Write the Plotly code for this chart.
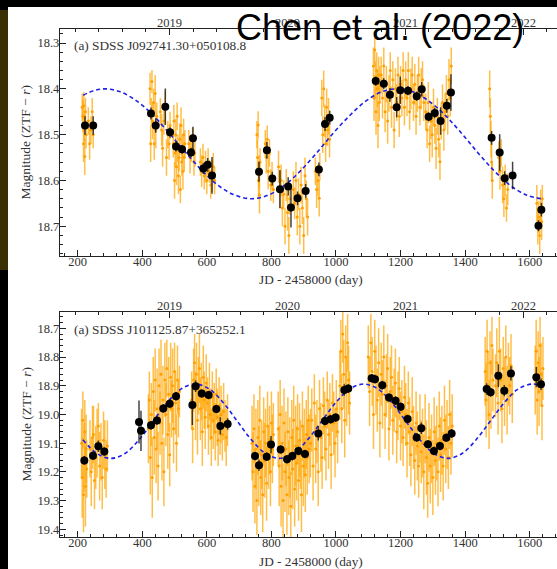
import plotly.graph_objects as go

# ---------------- data: top panel (SDSS J092741.30+050108.8) ----------------
TOP_OBS_X = [214, 216, 218, 219, 221, 222, 224, 226,
             233, 237, 241, 245, 248,
             424, 426, 428, 430, 432, 435, 437, 440, 442, 445,
             456, 460, 463, 467, 471, 475, 479, 483, 486,
             496, 498, 500, 502, 504, 506, 508, 510, 512, 514, 516, 518, 520, 522, 524, 526, 528, 530, 532,
             544, 548, 552, 556, 560, 563,
             580, 584, 588, 592, 596, 600, 604, 608, 612, 616, 620, 624,
             755, 757, 759, 760, 762, 763, 765,
             781, 784, 787, 790, 794, 798, 802, 806,
             822, 826, 830, 834, 838, 842, 846, 850, 854, 857,
             868, 872, 876, 880, 884, 888, 892, 896, 900, 904, 908, 912,
             936, 940, 944, 948, 950,
             956, 959, 962, 965, 968, 971, 974, 977, 980,
             1116, 1118, 1120, 1122, 1124, 1126, 1128, 1130, 1132, 1134, 1136,
             1140, 1144, 1148, 1152, 1156, 1160, 1164, 1168, 1172, 1176, 1180, 1184, 1188, 1192, 1196, 1200, 1204, 1208, 1212,
             1216, 1220, 1224, 1228, 1232, 1236, 1240, 1244, 1248, 1252, 1256, 1260, 1264, 1268, 1272,
             1278, 1282, 1286, 1290, 1294, 1298, 1302, 1306, 1310, 1314, 1318, 1322, 1326, 1330, 1334, 1338, 1342, 1346, 1350, 1354, 1357,
             1476, 1478, 1480, 1482, 1484,
             1504, 1508, 1512, 1516, 1520, 1524, 1528, 1532,
             1622, 1625, 1628, 1631, 1634, 1637, 1639]
TOP_OBS_Y = [18.44, 18.46, 18.52, 18.437, 18.485, 18.548, 18.45, 18.50,
             18.47, 18.52, 18.49, 18.45, 18.50,
             18.40, 18.52, 18.45, 18.384, 18.47, 18.43, 18.52, 18.41, 18.49, 18.46,
             18.45, 18.49, 18.53, 18.47, 18.44, 18.55, 18.50, 18.52, 18.48,
             18.52, 18.47, 18.60, 18.54, 18.50, 18.57, 18.46, 18.53, 18.59, 18.55, 18.51, 18.62, 18.48, 18.56, 18.53, 18.58, 18.50, 18.55, 18.52,
             18.52, 18.55, 18.53, 18.51, 18.56, 18.54,
             18.56, 18.58, 18.55, 18.59, 18.57, 18.60, 18.56, 18.58, 18.61, 18.59, 18.57, 18.60,
             18.50, 18.55, 18.479, 18.60, 18.58, 18.632, 18.56,
             18.52, 18.55, 18.51, 18.58, 18.54, 18.61, 18.59, 18.62,
             18.57, 18.62, 18.60, 18.66, 18.63, 18.70, 18.61, 18.67, 18.72, 18.64,
             18.62, 18.65, 18.60, 18.68, 18.63, 18.70, 18.61, 18.66, 18.72, 18.59, 18.64, 18.68,
             18.58, 18.62, 18.60, 18.639, 18.57,
             18.42, 18.50, 18.40, 18.47, 18.52, 18.44, 18.49, 18.46, 18.51,
             18.35, 18.42, 18.315, 18.38, 18.45, 18.36, 18.40, 18.48, 18.37, 18.43, 18.39,
             18.37, 18.42, 18.35, 18.45, 18.39, 18.47, 18.41, 18.36, 18.44, 18.38, 18.49, 18.40, 18.43, 18.37, 18.46, 18.39, 18.42, 18.36, 18.44,
             18.38, 18.42, 18.36, 18.45, 18.40, 18.37, 18.43, 18.39, 18.46, 18.41, 18.37, 18.44, 18.40, 18.38, 18.43,
             18.45, 18.49, 18.43, 18.52, 18.47, 18.50, 18.44, 18.48, 18.53, 18.46, 18.51, 18.559, 18.47, 18.43, 18.49, 18.45, 18.41, 18.46, 18.38, 18.42, 18.35,
             18.40, 18.46, 18.51, 18.56, 18.60,
             18.55, 18.58, 18.54, 18.61, 18.64, 18.60, 18.66, 18.62,
             18.65, 18.70, 18.68, 18.72, 18.66, 18.69, 18.64]
TOP_OBS_E = [.03, .035, .04, .03, .03, .04, .03, .03,
             .03, .035, .03, .03, .03,
             .035, .04, .03, .025, .04, .03, .035, .04, .04, .03,
             .03, .035, .04, .03, .035, .04, .03, .035, .03,
             .03, .035, .04, .03, .035, .04, .03, .03, .04, .03, .035, .03, .04, .03, .03, .04, .035, .03, .03,
             .03, .035, .03, .025, .03, .03,
             .03, .035, .03, .03, .035, .03, .03, .025, .03, .035, .03, .03,
             .03, .04, .03, .04, .035, .04, .03,
             .03, .035, .03, .04, .03, .035, .03, .03,
             .035, .04, .035, .04, .03, .04, .035, .04, .04, .035,
             .04, .035, .04, .04, .035, .04, .04, .035, .04, .04, .04, .04,
             .03, .04, .035, .04, .03,
             .04, .04, .04, .035, .04, .04, .035, .04, .04,
             .04, .05, .035, .04, .05, .04, .04, .05, .04, .04, .04,
             .04, .045, .04, .045, .04, .05, .04, .04, .045, .04, .04, .045, .04, .04, .045, .04, .04, .04, .04,
             .04, .04, .04, .04, .045, .04, .04, .045, .04, .04, .04, .04, .045, .04, .04,
             .04, .04, .045, .04, .04, .05, .04, .04, .045, .04, .04, .04, .04, .04, .045, .04, .04, .04, .045, .04, .04,
             .04, .04, .04, .04, .04,
             .035, .04, .03, .04, .04, .035, .03, .035,
             .04, .04, .035, .04, .04, .04, .03]

TOP_BIN_X = [222.6, 248, 427, 441.6, 471.4, 486, 504.5, 523, 551, 557, 589, 602.6, 616,
             761.5, 786, 802.7, 826.5, 852, 860.6, 881, 906,
             947, 966, 980.5,
             1123, 1148, 1167, 1188, 1199, 1223, 1250, 1265.5, 1287, 1306, 1324, 1343, 1356,
             1482, 1507, 1522.5, 1547,
             1627, 1636]
TOP_BIN_Y = [18.480, 18.480, 18.454, 18.480, 18.439, 18.495, 18.526, 18.532, 18.539, 18.508, 18.574, 18.566, 18.589,
             18.581, 18.534, 18.596, 18.619, 18.613, 18.659, 18.639, 18.623,
             18.576, 18.477, 18.463,
             18.383, 18.389, 18.413, 18.440, 18.403, 18.404, 18.416, 18.401, 18.461, 18.453, 18.470, 18.437, 18.408,
             18.507, 18.539, 18.595, 18.589,
             18.699, 18.664]
TOP_BIN_E = [.02, .02, .013, .016, .04, .011, .011, .01, .01, .025, .012, .015, .04,
             .022, .018, .015, .042, .02, .044, .015, .015,
             .015, .015, .015,
             .01, .012, .015, .022, .03, .01, .01, .016, .01, .011, .03, .015, .04,
             .015, .04, .015, .03,
             .012, .015]

TOP_MODEL_X = [217, 250, 286, 330, 380, 430, 480, 530, 580, 630, 680, 738, 790, 840, 890, 940, 990,
               1040, 1090, 1140, 1190, 1240, 1290, 1340, 1390, 1440, 1490, 1540, 1590, 1637]
TOP_MODEL_Y = [18.414, 18.404, 18.400, 18.406, 18.425, 18.455, 18.494, 18.535, 18.575, 18.608, 18.630, 18.640,
               18.632, 18.611, 18.579, 18.540, 18.498, 18.460, 18.428, 18.407, 18.400, 18.407, 18.428, 18.459,
               18.498, 18.540, 18.579, 18.611, 18.632, 18.640]

# ---------------- data: bottom panel (SDSS J101125.87+365252.1) ----------------
BOT_OBS_X = [212, 214, 216, 218, 220, 222, 224, 226, 228,
             238, 242, 246, 249, 252, 256, 260, 264, 268, 272, 276, 280, 284, 288, 292,
             419, 422, 425, 428, 431, 434, 437, 440, 443, 446, 449, 452, 455, 458, 461, 464, 467, 470, 473, 476, 479, 482, 485, 488, 491, 494, 497, 500, 503, 506, 509, 512, 515,
             553, 556, 559, 562, 565, 568, 571, 574, 577, 580, 583, 586, 589, 592, 595, 598,
             602, 605, 608, 611, 614, 617, 620, 623, 626, 629, 632, 635, 638, 641, 644, 648, 652, 656, 660, 664,
             740, 743, 746, 749, 752, 755, 758, 761, 764, 767, 770, 773, 776, 779, 782, 785, 788, 791, 794, 797, 800, 803, 806,
             821, 824, 827, 830, 833, 836, 839, 842, 845, 848, 851, 854, 857, 860, 863, 866, 869, 872, 875, 878, 881, 884, 887, 890, 893, 896, 899, 902, 905, 908, 911, 914, 917,
             921, 925, 929, 933, 937, 941, 945, 949, 953, 957, 961, 965, 969, 973, 977, 981, 985, 989, 993, 997, 1001, 1005,
             1012, 1015, 1018, 1021, 1024, 1027, 1030, 1033, 1036, 1039, 1042,
             1100, 1104, 1108, 1112, 1116, 1120, 1124, 1128, 1132, 1136, 1140, 1144, 1148, 1152, 1156, 1160, 1164, 1168, 1172, 1176, 1180, 1184, 1188, 1192, 1196, 1200, 1204, 1208, 1212,
             1216, 1220, 1224, 1228, 1232, 1236, 1240, 1244, 1248, 1252, 1256, 1260, 1264,
             1268, 1272, 1276, 1280, 1284, 1288, 1292, 1296, 1300, 1304, 1308, 1312, 1316, 1320, 1324, 1328, 1332, 1336, 1340, 1344, 1348, 1352, 1356, 1360,
             1462, 1465, 1468, 1471, 1474, 1477, 1480, 1483, 1486,
             1494, 1498, 1502, 1506, 1510, 1514, 1518, 1522, 1526, 1530, 1534, 1538, 1542, 1546,
             1617, 1620, 1623, 1626, 1629, 1632, 1635, 1638, 1641]
BOT_OBS_Y = [19.10, 19.22, 19.02, 19.28, 19.15, 19.06, 19.25, 19.12, 19.19,
             19.12, 19.20, 19.08, 19.07, 19.23, 19.15, 19.10, 19.04, 19.18, 19.13, 19.22, 19.09, 19.14, 19.19, 19.11,
             19.05, 18.95, 19.15, 19.00, 19.22, 18.92, 19.08, 18.88, 19.12, 18.98, 19.18, 18.90, 19.03, 18.86, 19.10, 18.95, 19.20, 18.88, 19.00, 18.84, 19.07, 18.93, 19.14, 18.87, 18.98, 18.90, 19.05, 18.85, 18.96, 19.10, 18.88, 18.98, 18.92,
             18.95, 19.05, 18.88, 18.82, 18.97, 18.86, 19.02, 18.90, 18.84, 18.98, 18.92, 19.06, 18.87, 18.95, 19.01, 18.89,
             18.96, 19.04, 18.92, 19.00, 19.08, 18.94, 19.02, 18.98, 19.06, 18.93, 19.01, 19.09, 18.97, 19.05, 19.00, 19.07, 18.99, 19.04, 19.08, 19.02,
             19.10, 19.20, 19.05, 19.25, 19.12, 19.30, 19.08, 19.18, 19.02, 19.22, 19.14, 19.28, 19.06, 19.16, 19.10, 19.24, 19.04, 19.15, 19.09, 19.20, 19.03, 19.12, 19.07,
             19.05, 19.18, 19.00, 19.25, 19.10, 19.30, 19.03, 19.20, 19.12, 19.28, 19.06, 19.22, 19.15, 19.32, 19.08, 19.19, 19.02, 19.26, 19.11, 19.17, 19.05, 19.23, 19.09, 19.14, 19.28, 19.04, 19.18, 19.10, 19.21, 19.07, 19.15, 19.02, 19.12,
             19.10, 19.02, 19.18, 18.96, 19.12, 19.06, 19.20, 18.98, 19.08, 19.15, 18.97, 19.04, 19.12, 18.95, 19.07, 19.00, 19.14, 18.96, 19.03, 19.10, 18.98, 19.06,
             18.90, 18.78, 18.98, 18.72, 18.86, 19.02, 18.80, 18.92, 18.75, 18.88, 18.96,
             18.80, 18.92, 18.75, 18.85, 19.00, 18.78, 18.88, 18.95, 18.82, 19.03, 18.86, 18.93, 18.80, 19.00, 18.90, 18.84, 19.05, 18.92, 18.87, 19.02, 18.95, 18.89, 19.06, 18.97, 18.91, 19.04, 18.99, 19.08, 18.94,
             19.00, 19.10, 18.96, 19.06, 19.14, 18.99, 19.08, 19.16, 19.03, 19.11, 19.18, 19.05, 19.13,
             19.10, 19.20, 19.05, 19.15, 19.24, 19.08, 19.18, 19.12, 19.22, 19.06, 19.16, 19.10, 19.20, 19.04, 19.14, 19.09, 19.18, 19.02, 19.12, 19.07, 19.15, 19.00, 19.10, 19.04,
             18.85, 18.95, 18.78, 18.90, 19.00, 18.82, 18.93, 18.76, 18.88,
             18.90, 18.82, 18.96, 18.78, 18.88, 18.98, 18.84, 18.92, 18.80, 18.95, 18.86, 18.90, 18.83, 18.93,
             18.88, 18.78, 18.95, 18.82, 18.92, 18.76, 18.86, 18.97, 18.84]
BOT_OBS_E = [.12, .14, .10, .13, .12, .11, .14, .12, .10,
             .10, .12, .11, .10, .10, .11, .12, .08, .12, .10, .11, .10, .12, .10, .09,
             .12, .10, .13, .11, .14, .12, .13, .11, .12, .14, .12, .13, .11, .12, .13, .12, .12, .13, .11, .10, .12, .13, .11, .12, .10, .13, .12, .10, .11, .10, .12, .10, .09,
             .10, .12, .11, .10, .12, .11, .12, .10, .12, .11, .10, .12, .11, .10, .11, .10,
             .09, .10, .10, .09, .10, .09, .10, .09, .10, .09, .10, .09, .10, .09, .10, .09, .10, .09, .10, .09,
             .13, .14, .12, .13, .14, .12, .13, .14, .12, .13, .12, .13, .12, .13, .12, .13, .12, .11, .12, .12, .11, .12, .11,
             .13, .14, .12, .14, .13, .13, .12, .14, .13, .14, .12, .13, .14, .12, .13, .14, .12, .13, .14, .13, .12, .14, .13, .12, .13, .12, .14, .12, .13, .12, .13, .12, .12,
             .12, .11, .12, .10, .12, .11, .12, .10, .12, .11, .10, .12, .11, .10, .12, .11, .12, .10, .11, .12, .10, .11,
             .12, .11, .12, .10, .12, .13, .11, .12, .10, .12, .11,
             .11, .12, .10, .12, .12, .11, .12, .11, .12, .12, .11, .12, .11, .12, .11, .12, .11, .12, .11, .12, .11, .12, .11, .12, .11, .12, .11, .10, .11,
             .11, .12, .11, .12, .11, .12, .11, .12, .11, .12, .11, .12, .11,
             .12, .13, .12, .13, .12, .12, .13, .12, .13, .12, .12, .13, .12, .12, .13, .12, .12, .12, .12, .12, .11, .12, .11, .11,
             .12, .13, .11, .12, .12, .11, .12, .10, .11,
             .11, .12, .11, .12, .11, .12, .11, .12, .11, .12, .11, .10, .11, .10,
             .12, .11, .12, .11, .12, .10, .11, .12, .11]

BOT_BIN_X = [220.6, 247.4, 263.9, 282.5, 389.9, 396, 427, 445.6, 465.2, 484.9, 504.5,
             555.1, 565.4, 584, 605.6, 629.4, 641.8, 664.5,
             749.2, 761.5, 785.3, 798.7, 828.6, 848.3, 864.8, 883.4, 904,
             945.2, 965.8, 983.4, 998.9, 1025.7, 1038.1,
             1110.4, 1120.7, 1143.4, 1164.1, 1184.7, 1200.2, 1221.9, 1249.8, 1264.2, 1284.9, 1303.4, 1322, 1341.6, 1358.2,
             1466.6, 1479, 1502.7, 1521.3, 1541.9, 1620.4, 1634.9]
BOT_BIN_Y = [19.160, 19.144, 19.111, 19.129, 19.026, 19.057, 19.038, 19.021, 18.979, 18.963, 18.937,
             18.967, 18.902, 18.927, 18.932, 18.981, 19.040, 19.033,
             19.145, 19.177, 19.147, 19.105, 19.122, 19.156, 19.145, 19.127, 19.138,
             19.066, 19.023, 19.017, 19.011, 18.915, 18.910,
             18.874, 18.877, 18.898, 18.941, 18.952, 18.973, 19.016, 19.080, 19.048, 19.104, 19.127, 19.110, 19.081, 19.066,
             18.911, 18.923, 18.865, 18.917, 18.857, 18.870, 18.895]
BOT_BIN_E = [.015, .015, .02, .015, .075, .07, .015, .015, .015, .015, .015,
             .07, .02, .015, .015, .015, .03, .02,
             .015, .02, .015, .03, .015, .015, .015, .015, .015,
             .025, .015, .015, .015, .02, .015,
             .015, .015, .015, .015, .015, .015, .015, .015, .02, .015, .015, .015, .015, .015,
             .02, .015, .04, .02, .025, .035, .02]

BOT_MODEL_X = [216, 259.5, 303, 346.5, 390, 433.5, 477, 520.5, 564, 607.5, 651, 694.5, 738, 781.5, 825,
               868.5, 912, 955.5, 999, 1042.5, 1086, 1129.5, 1173, 1216.5, 1260, 1303.5, 1347, 1390.5,
               1434, 1477.5, 1521, 1564.5, 1608, 1637]
BOT_MODEL_Y = [19.088, 19.136, 19.153, 19.136, 19.088, 19.024, 18.959, 18.911, 18.894, 18.911, 18.959,
               19.024, 19.088, 19.136, 19.153, 19.136, 19.088, 19.024, 18.959, 18.911, 18.894, 18.911,
               18.959, 19.024, 19.088, 19.136, 19.153, 19.136, 19.088, 19.024, 18.959, 18.911, 18.894, 18.902]

YEAR_TICKS = [484.5, 849.5, 1215.5, 1580.5]   # JD-2458000 of 1 Jan
YEAR_LABELS = ["2019", "2020", "2021", "2022"]
TITLES = ["(a) SDSS J092741.30+050108.8", "(a) SDSS J101125.87+365252.1"]

# ---------------- figure ----------------
W, H = 557, 569
X_RANGE = [145.2, 1684.5]
SERIF = "Liberation Serif, Times New Roman, DejaVu Serif, serif"
AX = "#222"

fig = go.Figure()


def add_panel(xa, ya, xtopname, ox, oy, oe, bx, by, be, mx, my):
    fig.add_trace(go.Scatter(
        x=ox, y=oy, mode="markers", xaxis=xa, yaxis=ya, showlegend=False, hoverinfo="skip",
        marker=dict(size=3, color="rgb(255,160,0)"),
        error_y=dict(type="data", array=oe, color="rgba(255,165,0,0.72)", thickness=1.5, width=0)))
    fig.add_trace(go.Scatter(
        x=mx, y=my, mode="lines", xaxis=xa, yaxis=ya, showlegend=False, hoverinfo="skip",
        line=dict(color="#2020e8", width=1.6, dash="4px,3px", shape="spline", smoothing=1.0)))
    fig.add_trace(go.Scatter(
        x=bx, y=by, mode="markers", xaxis=xa, yaxis=ya, showlegend=False, hoverinfo="skip",
        marker=dict(size=8, color="black"),
        error_y=dict(type="data", array=be, color="rgba(20,20,20,0.8)", thickness=1.5, width=0)))
    # invisible carrier so the top (calendar-year) axis is drawn
    fig.add_trace(go.Scatter(
        x=YEAR_TICKS, y=[None] * len(YEAR_TICKS), mode="markers", xaxis=xtopname, yaxis=ya,
        showlegend=False, hoverinfo="skip", marker=dict(size=1, opacity=0)))


add_panel("x", "y", "x3", TOP_OBS_X, TOP_OBS_Y, TOP_OBS_E, TOP_BIN_X, TOP_BIN_Y, TOP_BIN_E, TOP_MODEL_X, TOP_MODEL_Y)
add_panel("x2", "y2", "x4", BOT_OBS_X, BOT_OBS_Y, BOT_OBS_E, BOT_BIN_X, BOT_BIN_Y, BOT_BIN_E, BOT_MODEL_X, BOT_MODEL_Y)

tickfont = dict(family=SERIF, size=12.5, color="#333")
xdom = [60 / W, 1.0]
dom_top = [1 - 256 / H, 1 - 29.3 / H]
dom_bot = [1 - 537.3 / H, 1 - 311.7 / H]


def xbottom(anchor):
    return dict(domain=xdom, anchor=anchor, range=X_RANGE, showline=True, linecolor=AX, linewidth=1.3,
                ticks="inside", ticklen=6, tickwidth=1, tickcolor=AX, tick0=0, dtick=200,
                ticklabelstandoff=-6,
                minor=dict(ticks="inside", ticklen=3, tickwidth=1, tickcolor=AX, tick0=0, dtick=40),
                showgrid=False, zeroline=False, tickfont=tickfont)


def xtop(over, anchor):
    return dict(overlaying=over, anchor=anchor, side="top", range=X_RANGE, showline=True, linecolor=AX,
                linewidth=1.3, tickmode="array", tickvals=YEAR_TICKS, ticktext=YEAR_LABELS,
                ticks="inside", ticklen=6, tickwidth=1, tickcolor=AX, ticklabelstandoff=-4,
                minor=dict(ticks="inside", ticklen=3, tickwidth=1, tickcolor=AX, tick0=484.5, dtick=73),
                showgrid=False, zeroline=False, tickfont=tickfont)


def yax(dom, anchor, rng):
    return dict(domain=dom, anchor=anchor, range=rng, showline=True, linecolor=AX, linewidth=1.3,
                ticks="inside", ticklen=6, tickwidth=1, tickcolor=AX, tick0=0, dtick=0.1, tickformat=".1f",
                ticklabelstandoff=-3,
                minor=dict(ticks="inside", ticklen=3, tickwidth=1, tickcolor=AX, tick0=0, dtick=0.02),
                showgrid=False, zeroline=False, tickfont=tickfont)


ann = []
for t, yc in zip(TITLES, [46, 329]):
    ann.append(dict(text=t, xref="paper", yref="paper", x=72 / W, y=1 - yc / H, xanchor="left",
                    yanchor="middle", showarrow=False, font=dict(family=SERIF, size=13.3, color="#333")))
for yc in [142.6, 424.5]:
    ann.append(dict(text="Magnitude (ZTF − <i>r</i>)", xref="paper", yref="paper", x=26 / W, y=1 - yc / H,
                    xanchor="center", yanchor="middle", textangle=-90, showarrow=False,
                    font=dict(family=SERIF, size=13.5, color="#333")))
for yc in [279, 561]:
    ann.append(dict(text="JD - 2458000 (day)", xref="paper", yref="paper", x=311 / W, y=1 - yc / H,
                    xanchor="center", yanchor="middle", showarrow=False,
                    font=dict(family=SERIF, size=13.3, color="#333")))
ann.append(dict(text="Chen et al. (2022)", xref="paper", yref="paper", x=380 / W, y=1 - 28 / H,
                xanchor="center", yanchor="middle", showarrow=False,
                font=dict(family="Liberation Sans, Arial, sans-serif", size=36, color="black")))

shapes = [
    dict(type="rect", xref="paper", yref="paper", x0=8 / W, x1=1, y0=0, y1=1 - 7 / H,
         fillcolor="white", line=dict(width=0), layer="below"),
    dict(type="rect", xref="paper", yref="paper", x0=0, x1=8 / W, y0=1 - 270 / H, y1=1 - 10 / H,
         fillcolor="rgb(58,48,4)", line=dict(width=0), layer="below"),
]

fig.update_layout(
    width=W, height=H, margin=dict(l=0, r=0, t=0, b=0),
    paper_bgcolor="black", plot_bgcolor="white",
    xaxis=xbottom("y"), xaxis2=xbottom("y2"),
    xaxis3=xtop("x", "y"), xaxis4=xtop("x2", "y2"),
    yaxis=yax(dom_top, "x", [18.765, 18.27]),
    yaxis2=yax(dom_bot, "x2", [19.428, 18.642]),
    annotations=ann, shapes=shapes, showlegend=False,
)

fig.write_html("out.html")
